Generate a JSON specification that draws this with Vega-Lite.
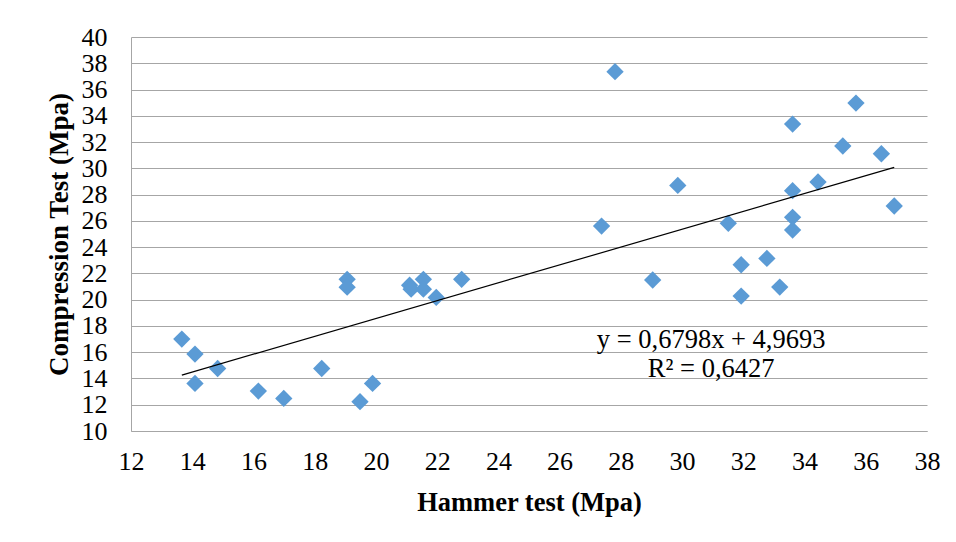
{
  "$schema": "https://vega.github.io/schema/vega-lite/v6.json",
  "width": 796,
  "height": 394,
  "autosize": {"type": "none"},
  "padding": {"left": 131, "top": 37, "right": 29, "bottom": 111},
  "background": "white",
  "config": {
    "view": {"stroke": null},
    "font": "Liberation Serif",
    "axis": {"labelFont": "Liberation Serif", "titleFont": "Liberation Serif"},
    "text": {"font": "Liberation Serif"}
  },
  "datasets": {
    "points": [
      {"hammer": 13.66, "compression": 17.0},
      {"hammer": 14.09, "compression": 15.86},
      {"hammer": 14.09, "compression": 13.62},
      {"hammer": 14.83, "compression": 14.76},
      {"hammer": 16.16, "compression": 13.04},
      {"hammer": 16.99, "compression": 12.48},
      {"hammer": 18.23, "compression": 14.76},
      {"hammer": 19.48, "compression": 12.23},
      {"hammer": 19.89, "compression": 13.62},
      {"hammer": 19.06, "compression": 21.55},
      {"hammer": 19.06, "compression": 20.95},
      {"hammer": 21.1, "compression": 21.1},
      {"hammer": 21.15, "compression": 20.8},
      {"hammer": 21.55, "compression": 21.55},
      {"hammer": 21.55, "compression": 20.8},
      {"hammer": 21.97, "compression": 20.17},
      {"hammer": 22.8, "compression": 21.55},
      {"hammer": 27.81, "compression": 37.36},
      {"hammer": 27.37, "compression": 25.6},
      {"hammer": 29.86, "compression": 28.7},
      {"hammer": 29.04, "compression": 21.5},
      {"hammer": 31.51, "compression": 25.81},
      {"hammer": 31.93, "compression": 22.66},
      {"hammer": 31.93, "compression": 20.27},
      {"hammer": 32.77, "compression": 23.14},
      {"hammer": 33.19, "compression": 20.96},
      {"hammer": 33.61, "compression": 33.37},
      {"hammer": 33.61, "compression": 28.3},
      {"hammer": 33.61, "compression": 26.27},
      {"hammer": 33.61, "compression": 25.3},
      {"hammer": 34.44, "compression": 28.96},
      {"hammer": 35.25, "compression": 31.7},
      {"hammer": 35.68, "compression": 34.97},
      {"hammer": 36.51, "compression": 31.11},
      {"hammer": 36.93, "compression": 27.13}
    ],
    "trend": [
      {"hammer": 13.66, "compression": 14.26},
      {"hammer": 36.93, "compression": 30.07}
    ],
    "labels": [
      {"hammer": 30.95, "compression": 16.92, "text": "y = 0,6798x + 4,9693"},
      {"hammer": 30.95, "compression": 14.71, "text": "R² = 0,6427"}
    ]
  },
  "encoding": {
    "x": {
      "field": "hammer",
      "type": "quantitative",
      "scale": {"domain": [12, 38], "nice": false, "zero": false},
      "axis": {
        "title": "Hammer test (Mpa)",
        "values": [12, 14, 16, 18, 20, 22, 24, 26, 28, 30, 32, 34, 36, 38],
        "grid": false,
        "ticks": false,
        "domainColor": "#A6A6A6",
        "domainWidth": 1,
        "labelFont": "Liberation Serif",
        "labelFontSize": 26,
        "labelColor": "#000000",
        "labelPadding": 17,
        "labelFlush": false,
        "labelOverlap": false,
        "titleFont": "Liberation Serif",
        "titleFontSize": 26.5,
        "titleFontWeight": "bold",
        "titleColor": "#000000",
        "titlePadding": 15
      }
    },
    "y": {
      "field": "compression",
      "type": "quantitative",
      "scale": {"domain": [10, 40], "nice": false, "zero": false},
      "axis": {
        "title": "Compression Test (Mpa)",
        "values": [10, 12, 14, 16, 18, 20, 22, 24, 26, 28, 30, 32, 34, 36, 38, 40],
        "grid": true,
        "gridColor": "#A6A6A6",
        "gridWidth": 1,
        "ticks": false,
        "domainColor": "#A6A6A6",
        "domainWidth": 1,
        "labelFont": "Liberation Serif",
        "labelFontSize": 26,
        "labelColor": "#000000",
        "labelPadding": 24,
        "labelFlush": false,
        "labelOverlap": false,
        "titleFont": "Liberation Serif",
        "titleFontSize": 27,
        "titleFontWeight": "bold",
        "titleColor": "#000000",
        "titlePadding": 8
      }
    }
  },
  "layer": [
    {
      "data": {"name": "points"},
      "mark": {"type": "point", "shape": "diamond", "filled": true, "size": 300, "color": "#5B9BD5", "opacity": 1}
    },
    {
      "data": {"name": "trend"},
      "mark": {"type": "line", "color": "#000000", "strokeWidth": 1.2}
    },
    {
      "data": {"name": "labels"},
      "mark": {"type": "text", "font": "Liberation Serif", "fontSize": 26.5, "color": "#000000", "align": "center", "baseline": "middle"},
      "encoding": {"text": {"field": "text", "type": "nominal"}}
    }
  ]
}
